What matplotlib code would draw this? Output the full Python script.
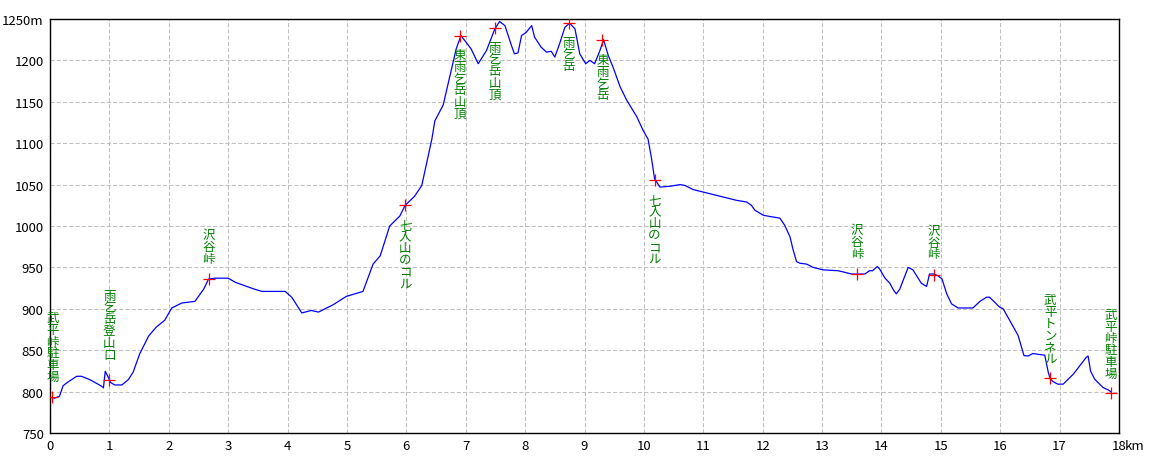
import matplotlib
matplotlib.use("Agg")
import matplotlib.pyplot as plt

plt.rcParams['font.family'] = ['Noto Sans CJK JP', 'DejaVu Sans']

# 距離(km)と標高(m)
dist_km = [
    0.00, 0.08, 0.16, 0.22, 0.28, 0.45, 0.53, 0.67, 0.87, 0.90, 0.93, 0.97,
    1.02, 1.09, 1.21, 1.32, 1.40, 1.51, 1.66, 1.79, 1.93, 2.05, 2.22, 2.44,
    2.59, 2.67, 2.78, 3.00, 3.12, 3.43, 3.57, 3.77, 3.96, 4.07, 4.24, 4.40,
    4.52, 4.77, 4.99, 5.27, 5.44, 5.56, 5.72, 5.89, 5.98, 6.14, 6.26, 6.43,
    6.48, 6.62, 6.73, 6.84, 6.92, 7.09, 7.21, 7.35, 7.49, 7.57, 7.66, 7.77,
    7.82, 7.88, 7.94, 8.02, 8.11, 8.16, 8.27, 8.36, 8.44, 8.50, 8.58, 8.67,
    8.75, 8.84, 8.92, 9.02, 9.09, 9.17, 9.26, 9.32, 9.40, 9.48, 9.60, 9.71,
    9.88, 9.99, 10.07, 10.13, 10.18, 10.27, 10.44, 10.61, 10.69, 10.83, 11.00,
    11.17, 11.34, 11.56, 11.73, 11.81, 11.87, 12.01, 12.12, 12.29, 12.37,
    12.46, 12.51, 12.57, 12.63, 12.74, 12.85, 13.02, 13.27, 13.50, 13.72,
    13.80, 13.85, 13.93, 13.97, 14.06, 14.14, 14.20, 14.25, 14.31, 14.45,
    14.53, 14.67, 14.76, 14.81, 14.88, 14.95, 15.02, 15.10, 15.18, 15.29,
    15.54, 15.66, 15.77, 15.82, 15.99, 16.05, 16.19, 16.30, 16.40, 16.47,
    16.55, 16.64, 16.75, 16.81, 16.84, 16.89, 16.97, 17.06, 17.23, 17.45,
    17.48, 17.52, 17.59, 17.73, 17.82, 17.86,
]
elev_m = [
    793, 792, 794.5, 807, 810.5, 818.5, 818.5, 814.5, 806.5, 804.5, 824.5, 819,
    811, 808, 808, 814.5, 823.5, 845.5, 867, 878, 886, 901, 907, 909,
    924, 936, 937, 937, 932, 924, 921, 921, 921, 914, 895, 898,
    896, 905, 915, 921, 954, 964, 1000, 1012, 1025, 1036, 1049, 1105,
    1127, 1146, 1180, 1214, 1230, 1214, 1196, 1212, 1238, 1247, 1242, 1218,
    1208, 1209, 1230, 1234, 1242, 1228, 1216, 1210, 1211, 1204, 1220, 1240,
    1245, 1238, 1208, 1196, 1200, 1196, 1212, 1225, 1206, 1192, 1168, 1152,
    1132, 1115, 1105, 1081, 1057, 1047, 1048, 1050, 1049, 1044, 1041,
    1038, 1035, 1031, 1029, 1025, 1019, 1013, 1011.5, 1009.5, 1001,
    987, 972, 957, 955, 954, 950, 947, 946, 942, 942,
    946, 946, 951, 948, 937, 931, 923, 918, 924, 950,
    947, 931, 927, 942, 942, 940, 936, 918, 906, 901,
    901, 909, 914, 914, 902, 900, 882, 868, 843.5, 843,
    846, 845, 844, 823, 816, 812, 809, 809, 821, 841.5,
    843, 825, 815, 805, 802, 800,
]

# 地点
point_names = [
    "武平峠駐車場", "雨乞岳登山口", "沢谷峠", "七入山のコル", "東雨乞岳山頂",
    "雨乞岳山頂", "雨乞岳", "東雨乞岳", "七入山のコル", "沢谷峠", "沢谷峠",
    "武平トンネル", "武平峠駐車場",
]
point_km = [0.04, 1.00, 2.67, 5.98, 6.90, 7.49, 8.74, 9.30, 10.18, 13.59, 14.88, 16.84, 17.86]
point_m = [793, 814, 936, 1025, 1230, 1239, 1245, 1225, 1055, 942, 941, 816, 798]

# ラベルの位置 (px, 正=上, 負=下)
label_gap = [15, 20, 15, -13, -13, -13, -13, -14, -13, 15, 15, 14, 14]

x_ticks = list(range(0, 19))
y_ticks = list(range(750, 1251, 50))


def vertical_label(ax, x, y, text, gap):
    step = 11.8
    n = len(text)
    for k, ch in enumerate(text):
        if gap > 0:
            dy = gap + step / 2 + (n - 1 - k) * step
        else:
            dy = gap - step / 2 - k * step
        ax.annotate(ch, (x, y), xytext=(0, dy), textcoords='offset pixels',
                    ha='center', va='center', fontsize=9, color='#008000')


fig = plt.figure(figsize=(11.6, 4.64), dpi=100)
ax = fig.add_axes([50 / 1160, 1 - 434 / 464, 1069 / 1160, 414 / 464])

ax.plot(dist_km, elev_m, color='#0000ff', lw=0.9, zorder=3)
ax.plot(point_km, point_m, linestyle='none', marker='+', color='#ff0000',
        markersize=9, markeredgewidth=0.9, zorder=4)

for name, x, y, g in zip(point_names, point_km, point_m, label_gap):
    vertical_label(ax, x, y, name, g)

ax.set_xlim(0, 18)
ax.set_ylim(750, 1250)
ax.set_xticks(x_ticks)
ax.set_yticks(y_ticks)
ax.set_xticklabels([str(t) for t in x_ticks])
ax.set_yticklabels([str(t) if t != 1250 else "1250m" for t in y_ticks])
ax.tick_params(length=0, labelsize=9.5, pad=4.5)
ax.annotate("km", (18, 750), xytext=(6, -6.5), textcoords='offset pixels',
            ha='left', va='top', fontsize=9.5)

ax.grid(True, color='#c0c0c0', linestyle=(0, (4, 2)), linewidth=0.75)
ax.set_axisbelow(True)
for s in ax.spines.values():
    s.set_color('black')
    s.set_linewidth(1.0)

fig.savefig("out.png", dpi=100)
